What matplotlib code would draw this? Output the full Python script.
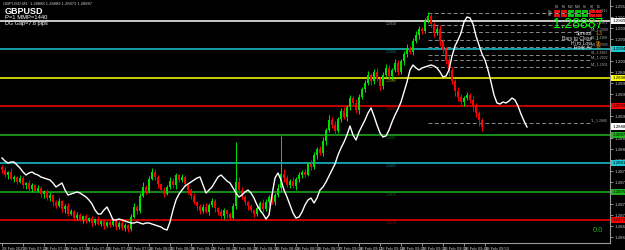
import numpy as np
import matplotlib
matplotlib.use("Agg")
import matplotlib.pyplot as plt
from matplotlib.transforms import blended_transform_factory

plt.rcParams['font.family'] = ['Liberation Sans', 'DejaVu Sans']

# ---------------- data (prices in points: price = BASE + pts * 1e-5) ----------------
BASE = 1.28
symbol = "GBPUSD"
bid_price = 1.28887

close_pts = [
    800, 790, 796, 782, 786, 776, 784, 770, 774, 762,
    770, 758, 764, 752, 758, 744, 750, 736, 728, 738,
    722, 728, 712, 718, 704, 710, 700, 708, 698, 704,
    694, 702, 692, 698, 688, 696, 690, 698, 686, 694,
    684, 690, 682, 706, 726, 718, 748, 766, 758, 782,
    796, 786, 772, 760, 752, 766, 778, 770, 790, 780,
    786, 772, 760, 748, 736, 728, 718, 726, 716, 730,
    738, 724, 716, 708, 720, 712, 704, 728, 776, 760,
    746, 736, 728, 720, 712, 724, 734, 722, 736, 746,
    736, 750, 764, 792, 784, 770, 778, 768, 782, 790,
    796, 790, 812, 806, 830, 842, 834, 858, 880, 900,
    890, 878, 902, 918, 906, 926, 944, 934, 920, 946,
    962, 974, 990, 978, 996, 982, 968, 990, 1004, 988,
    1000, 1014, 996, 1018, 1032, 1044, 1036, 1058, 1070, 1082,
    1078, 1098, 1108, 1092, 1074, 1082, 1058, 1040, 1020, 1000,
    978, 958, 946, 936, 944, 950, 940, 928, 914, 900,
    887]
first_open_pts = 806

wick_up_pts = [
    4, 6, 2, 8, 4, 2, 6, 4, 2, 6,
    4, 2, 6, 4, 2, 4, 6, 2, 4, 6,
    2, 4, 6, 4, 2, 6, 4, 2, 4, 2,
    4, 2, 6, 2, 4, 2, 4, 6, 2, 4,
    6, 4, 2, 6, 8, 4, 6, 10, 4, 6,
    8, 6, 4, 2, 6, 4, 8, 6, 4, 2,
    6, 4, 2, 4, 6, 2, 4, 6, 8, 4,
    6, 4, 2, 6, 4, 2, 4, 6, 80, 10,
    6, 4, 2, 4, 2, 6, 4, 8, 6, 4,
    6, 4, 8, 76, 10, 6, 4, 8, 4, 6,
    4, 6, 4, 8, 6, 4, 6, 8, 4, 10,
    6, 8, 4, 6, 8, 4, 6, 4, 8, 6,
    4, 6, 8, 4, 6, 8, 4, 6, 8, 6,
    4, 8, 6, 4, 6, 8, 4, 6, 8, 6,
    4, 6, 8, 6, 4, 6, 8, 4, 6, 8,
    6, 4, 8, 6, 4, 6, 4, 8, 6, 4,
    4]
wick_dn_pts = [
    6, 4, 8, 2, 6, 4, 2, 6, 8, 4,
    6, 4, 2, 6, 8, 4, 6, 8, 4, 2,
    6, 8, 4, 2, 6, 4, 2, 6, 4, 2,
    6, 4, 2, 4, 6, 2, 4, 2, 6, 4,
    4, 6, 6, 4, 2, 6, 4, 2, 6, 4,
    2, 6, 8, 4, 6, 2, 4, 6, 8, 4,
    4, 6, 8, 6, 4, 8, 6, 4, 2, 6,
    4, 8, 6, 4, 6, 8, 4, 2, 6, 8,
    4, 6, 8, 4, 6, 4, 8, 6, 4, 6,
    4, 6, 4, 6, 8, 4, 6, 4, 8, 6,
    6, 4, 2, 6, 4, 8, 4, 6, 8, 4,
    6, 8, 4, 6, 4, 8, 6, 4, 6, 8,
    4, 6, 4, 8, 6, 4, 8, 6, 4, 6,
    8, 4, 6, 4, 8, 6, 4, 6, 4, 8,
    6, 4, 4, 6, 8, 4, 10, 6, 8, 12,
    6, 10, 8, 6, 8, 4, 6, 10, 8, 12,
    8]

# white overlay line (one value per bar, extends past last candle)
overlay_pts = [
    824, 818, 814, 816, 816, 810, 804, 796, 790, 794,
    796, 792, 790, 786, 784, 782, 780, 774, 766, 770,
    774, 760, 750, 752, 754, 756, 754, 750, 746, 740,
    732, 720, 712, 712, 720, 726, 714, 700, 700, 702,
    700, 698, 696, 694, 694, 696, 694, 692, 694, 694,
    692, 690, 688, 686, 682, 680, 696, 720, 740, 752,
    760, 768, 772, 776, 780, 784, 786, 770, 754, 760,
    766, 776, 786, 790, 784, 778, 774, 764, 754, 746,
    750, 756, 760, 754, 744, 730, 720, 712, 702, 710,
    750, 784, 794, 780, 760, 746, 730, 714, 704, 706,
    716, 730, 740, 744, 734, 744, 760, 766, 776, 788,
    800, 812, 830, 844, 856, 870, 888, 870, 860, 876,
    888, 900, 914, 924, 908, 890, 874, 866, 868, 880,
    896, 910, 922, 936, 956, 976, 1000, 1010, 1004, 1000,
    1004, 1006, 1008, 1010, 1008, 1004, 996, 986, 988, 1000,
    1028, 1048, 1060, 1074, 1096, 1106, 1104, 1092, 1068, 1050,
    1032, 1020, 1000, 976, 950, 934, 932, 936, 934, 938,
    944, 940, 928, 912, 898, 886]

pivot_pts = [1098, 1042, 984, 928, 870, 814, 756, 700]
pivot_colors = ['#ffffff', '#1ec8d2', '#ffff00', '#ff0000',
                '#1eb41e', '#1ec8d2', '#1eb41e', '#ff0000']
pivot_dim = ['#9a9a9a', '#127880', '#8a8a00', '#8a1010',
             '#106a10', '#127880', '#106a10', '#8a1010']

dashed_pts = [1114, 1090, 1076, 1060, 1046, 1030, 1020, 1006, 894]
dashed_names = ['R3', 'R2', 'M5', 'R1', 'M4', 'S1', 'ML', 'ML', 'TL']

tick_pts = list(range(1128, 650, -22))

time_labels = ['28 Feb 2025', '28 Feb 07:19', '28 Feb 07:26', '28 Feb 07:33',
               '28 Feb 07:40', '28 Feb 07:47', '28 Feb 07:54', '28 Feb 08:01',
               '28 Feb 08:08', '28 Feb 08:15', '28 Feb 08:22', '28 Feb 08:29',
               '28 Feb 08:36', '28 Feb 08:43', '28 Feb 08:50', '28 Feb 08:57',
               '28 Feb 09:04', '28 Feb 09:11', '28 Feb 09:18', '28 Feb 09:25',
               '28 Feb 09:32', '28 Feb 09:39', '28 Feb 09:46', '28 Feb 09:53']
bars_per_label = 7

tf_names = ['M1', 'M5', 'M15', 'M30', 'H1', 'H4', 'D1']
tf_row1 = ['red', 'red', 'green', 'green', 'green', 'red', 'red']
tf_row2 = ['red', 'red', 'green', 'green', 'green', 'red', 'red']

info_names = ['Spread', 'Bars to Close', 'Hi to Low', 'Daily Av']
info_values = ['1.3', '1', '56', '78']
info_colors = ['#ff8c00', '#00ff00', '#ff8c00', '#ff8c00']

# ---------------- figure ----------------
W, H = 625, 250
fig = plt.figure(figsize=(W / 100, H / 100), dpi=100, facecolor='black')
ax = fig.add_axes([0, 7 / H, 610 / W, 243 / H])
ax.set_facecolor('black')


def P(x, y):
    return x / W, 1 - y / H


closes = np.array(close_pts, dtype=float)
opens = np.concatenate([[first_open_pts], closes[:-1]])
highs = np.maximum(opens, closes) + np.array(wick_up_pts)
lows = np.minimum(opens, closes) - np.array(wick_dn_pts)
idx = np.arange(len(closes))
up = closes >= opens
ccol = np.where(up, '#00e000', '#ff0000')

# pivot lines
for lv, c in zip(pivot_pts, pivot_colors):
    ax.axhline(lv, color=c, lw=1.1, zorder=2)

# dashed levels
ax.hlines(dashed_pts, 142, 196, colors='#8a8a8a', linestyles=(0, (4, 2.5)), lw=0.7, zorder=2)

# candles
ax.vlines(idx, lows, highs, colors=ccol, lw=0.7, zorder=3)
body_h = np.maximum(np.abs(closes - opens), 1.5)
ax.bar(idx, body_h, bottom=np.minimum(opens, closes), width=0.72, color=ccol,
       linewidth=0, zorder=3)

# overlay line
ax.plot(np.arange(len(overlay_pts)), overlay_pts, color='white', lw=1.0, zorder=4)

ax.set_xlim(-2 / 3, 608 / 3)
ax.set_ylim(654, 1140)

# axes styling
for s in ['left', 'top']:
    ax.spines[s].set_visible(False)
for s in ['right', 'bottom']:
    ax.spines[s].set_color('#9a9a9a')
    ax.spines[s].set_linewidth(0.8)

ax.yaxis.tick_right()
ax.set_yticks(tick_pts)
ax.set_yticklabels([f"{BASE + p * 1e-5:.5f}" for p in tick_pts])
ax.tick_params(axis='y', labelsize=3.2, colors='#c8c8c8', length=2, width=0.5, pad=1.5)

xt = np.arange(len(time_labels)) * bars_per_label
ax.set_xticks(xt)
ax.set_xticklabels(time_labels, ha='left')
ax.tick_params(axis='x', labelsize=3.0, colors='#c8c8c8', length=2, width=0.5, pad=0.8)

# axis price boxes
bt = blended_transform_factory(ax.transAxes, ax.transData)
for lv, c in zip(pivot_pts, pivot_colors):
    ax.text(1.004, lv, f"{BASE + lv * 1e-5:.5f}", transform=bt, ha='left', va='center',
            fontsize=3.2, color='black', zorder=6, clip_on=False,
            bbox=dict(boxstyle='square,pad=0.25', fc=c, ec='none'))
bid_pts = round((bid_price - BASE) * 1e5)
ax.text(1.004, bid_pts, f"{bid_price:.5f}", transform=bt, ha='left', va='center',
        fontsize=3.2, color='black', zorder=6, clip_on=False,
        bbox=dict(boxstyle='square,pad=0.25', fc='white', ec='none'))

# pivot labels in chart
for lv, c in zip(pivot_pts, pivot_dim):
    ax.text(128, lv - 2, f"{BASE + lv * 1e-5:.4f}", fontsize=2.6, color=c,
            ha='left', va='top', zorder=5)

# dashed labels
for lv, nm in zip(dashed_pts, dashed_names):
    ax.text(202, lv + 1, f"{nm}_{BASE + lv * 1e-5:.4f}", fontsize=2.5, color='#a8a8a8',
            ha='right', va='bottom', zorder=5)

# top-left texts
fig.text(*P(3, 4), f"{symbol},M1  1.28888 1.28889 1.28873 1.28887", fontsize=3.0,
         color='#c8c8c8', va='center', ha='left')
fig.text(*P(5, 11), symbol, fontsize=6.5, fontweight='bold', color='white', va='center')
fig.text(*P(5, 17.5), "P=1 MMP=1440", fontsize=4.2, color='white', va='center')
fig.text(*P(5, 24), "DG Gap=7.6 pips", fontsize=4.0, color='white', va='center')

# timeframe table
for k, nm in enumerate(tf_names):
    x0 = 554 + 7 * k
    fig.text(*P(x0 + 3, 7), nm, fontsize=2.2, color='#c8c8c8', ha='center', va='center')
    for row, cols in ((10, tf_row1), (14, tf_row2)):
        c = '#e01010' if cols[k] == 'red' else '#10c010'
        fig.patches.append(plt.Rectangle(P(x0, row + 3), 6 / W, 3 / H, transform=fig.transFigure,
                                         fc=c, ec='none', figure=fig))
fig.text(*P(552, 11.5), "Sig", fontsize=2.2, color='#e0e0e0', ha='right', va='center')
fig.text(*P(552, 15.5), "Str", fontsize=2.2, color='#e0e0e0', ha='right', va='center')

# big bid
fig.text(*P(603, 24), f"{bid_price:.5f}", fontsize=10, color='#00ff00', ha='right', va='center')

# info block
for k, (nm, val, vc) in enumerate(zip(info_names, info_values, info_colors)):
    yy = 33.5 + 4.8 * k
    fig.text(*P(592, yy), nm, fontsize=3.6, color='#e0e0e0', ha='right', va='center')
    fig.text(*P(596, yy), val, fontsize=3.6, color=vc, ha='left', va='center')

# bottom-right value
fig.text(*P(598, 231), "0.0", fontsize=5.5, color='#20b020', ha='center', va='center')

fig.savefig("out.png", dpi=100, facecolor='black')
